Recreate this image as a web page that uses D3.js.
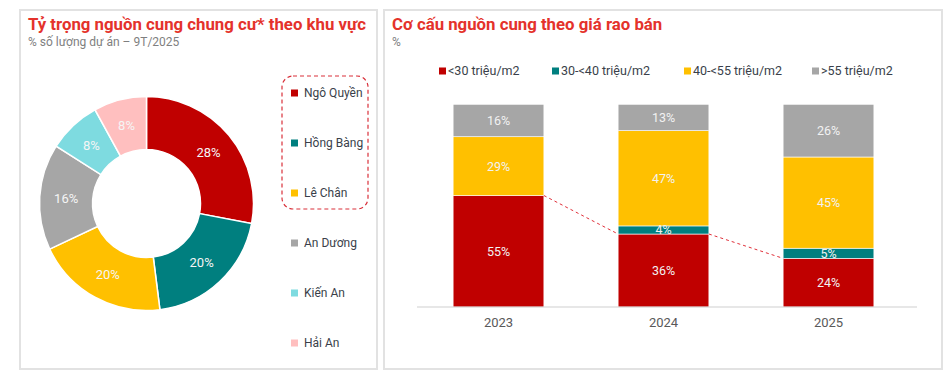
<!DOCTYPE html>
<html><head><meta charset="utf-8">
<script src="https://cdn.jsdelivr.net/npm/d3@7"></script>
<style>
html,body{margin:0;padding:0;background:#fff;}
svg{display:block;font-family:Roboto,"Noto Sans",sans-serif;}
</style></head>
<body>
<svg id="c" width="949" height="383"></svg>
<script>
// ---- Data ----
const districts = ["Ngô Quyền","Hồng Bàng","Lê Chân","An Dương","Kiến An","Hải An"];
const districtShare = [28,20,20,16,8,8];
const districtColors = ["#C00000","#007F7F","#FFC000","#A6A6A6","#7EDBE0","#FFBFBF"];

const years = ["2023","2024","2025"];
const priceBands = ["<30 triệu/m2","30-<40 triệu/m2","40-<55 triệu/m2",">55 triệu/m2"];
const band1 = [55,36,24];
const band2 = [0,4,5];
const band3 = [29,47,45];
const band4 = [16,13,26];
const bandColors = ["#C00000","#007F7F","#FFC000","#A6A6A6"];

const svg = d3.select("#c");
const titleRed = "#E4322B";

// ---- Panels ----
svg.append("rect").attr("x",20).attr("y",10).attr("width",357).attr("height",359)
  .attr("fill","#fff").attr("stroke","#E2E2E2").attr("stroke-width",2);
svg.append("rect").attr("x",384).attr("y",10).attr("width",558).attr("height",359)
  .attr("fill","#fff").attr("stroke","#E2E2E2").attr("stroke-width",2);

// Titles
svg.append("text").attr("x",28).attr("y",30).attr("font-size",16.8).attr("font-weight","bold")
  .attr("fill",titleRed).text("Tỷ trọng nguồn cung chung cư* theo khu vực");
svg.append("text").attr("x",28).attr("y",46).attr("font-size",12).attr("fill","#7F7F7F")
  .text("% số lượng dự án – 9T/2025");
svg.append("text").attr("x",392).attr("y",30).attr("font-size",16.8).attr("font-weight","bold")
  .attr("fill",titleRed).text("Cơ cấu nguồn cung theo giá rao bán");
svg.append("text").attr("x",392).attr("y",46).attr("font-size",12).attr("fill","#7F7F7F").text("%");

// ---- Donut ----
const cx = 146.5, cy = 203.5, rO = 107, rI = 54;
const pie = d3.pie().sort(null).value(d=>d.v);
const pdata = pie(districts.map((n,i)=>({n, v:districtShare[i], c:districtColors[i]})));
const arc = d3.arc().innerRadius(rI).outerRadius(rO);
const lab = d3.arc().innerRadius((rI+rO)/2).outerRadius((rI+rO)/2);
const g = svg.append("g").attr("transform",`translate(${cx},${cy})`);
g.selectAll("path").data(pdata).join("path").attr("d",arc).attr("fill",d=>d.data.c)
  .attr("stroke","#fff").attr("stroke-width",1.5);
g.selectAll("text").data(pdata).join("text")
  .attr("transform",d=>`translate(${lab.centroid(d)})`)
  .attr("text-anchor","middle").attr("dy","0.36em").attr("font-size",13)
  .attr("fill","#F5F5F5").text(d=>d.data.v+"%");

// left legend
const lg = svg.append("g");
districts.forEach((n,i)=>{
  const y = 93 + i*50;
  lg.append("rect").attr("x",291).attr("y",y-3.5).attr("width",7).attr("height",7).attr("fill",districtColors[i]);
  lg.append("text").attr("x",304).attr("y",y).attr("dy","0.35em").attr("font-size",12)
    .attr("fill","#3A3F4A").text(n);
});
svg.append("rect").attr("x",282).attr("y",76).attr("width",86).attr("height",133).attr("rx",11)
  .attr("fill","none").attr("stroke","#D9303A").attr("stroke-width",1.2).attr("stroke-dasharray","4,3");

// ---- Stacked bars ----
const x = d3.scaleBand().domain(years).range([416,911]).paddingInner(0.45).paddingOuter(0.225);
const y = d3.scaleLinear().domain([0,100]).range([307,104.3]);
const rows = years.map((yr,i)=>({year:yr, b0:band1[i], b1:band2[i], b2:band3[i], b3:band4[i]}));
const stack = d3.stack().keys(["b0","b1","b2","b3"]);
const series = stack(rows);
const bg = svg.append("g");
series.forEach((s,si)=>{
  bg.selectAll(null).data(s.filter(d=>d[1]-d[0]>0)).join("rect")
    .attr("x",d=>x(d.data.year)).attr("width",x.bandwidth())
    .attr("y",d=>y(d[1])).attr("height",d=>y(d[0])-y(d[1]))
    .attr("fill",bandColors[si]).attr("stroke","#fff").attr("stroke-width",0.6);
});
series.forEach((s,si)=>{
  bg.selectAll(null).data(s.filter(d=>d[1]-d[0]>0)).join("text")
    .attr("x",d=>x(d.data.year)+x.bandwidth()/2).attr("y",d=>(y(d[0])+y(d[1]))/2)
    .attr("dy","0.36em").attr("text-anchor","middle").attr("font-size",12.5)
    .attr("fill","#F2F2F2").text(d=>(d[1]-d[0])+"%");
});
// dashed connectors between top of red segments
const conn = [];
for(let i=0;i<years.length-1;i++){
  conn.push([[x(years[i])+x.bandwidth(), y(band1[i])],[x(years[i+1]), y(band1[i+1])]]);
}
svg.selectAll(null).data(conn).join("line")
  .attr("x1",d=>d[0][0]).attr("y1",d=>d[0][1]).attr("x2",d=>d[1][0]).attr("y2",d=>d[1][1])
  .attr("stroke","#E0303A").attr("stroke-width",1).attr("stroke-dasharray","3,3");

// axis
const ax = svg.append("g").attr("transform","translate(0,307)")
  .call(d3.axisBottom(x).tickSize(0).tickPadding(11));
ax.select(".domain").attr("stroke","#D0D0D0").attr("stroke-width",1.2).attr("d","M417,0H917");
ax.selectAll("text").attr("font-size",13).attr("fill","#595959").attr("font-family","Roboto");

// right legend
const legX = [439,552,684,812];
priceBands.forEach((n,i)=>{
  svg.append("rect").attr("x",legX[i]).attr("y",71-3.5).attr("width",7).attr("height",7).attr("fill",bandColors[i]);
  svg.append("text").attr("x",legX[i]+9).attr("y",71).attr("dy","0.35em").attr("font-size",12.5)
    .attr("fill","#3A3F4A").text(n);
});
</script>
</body></html>
